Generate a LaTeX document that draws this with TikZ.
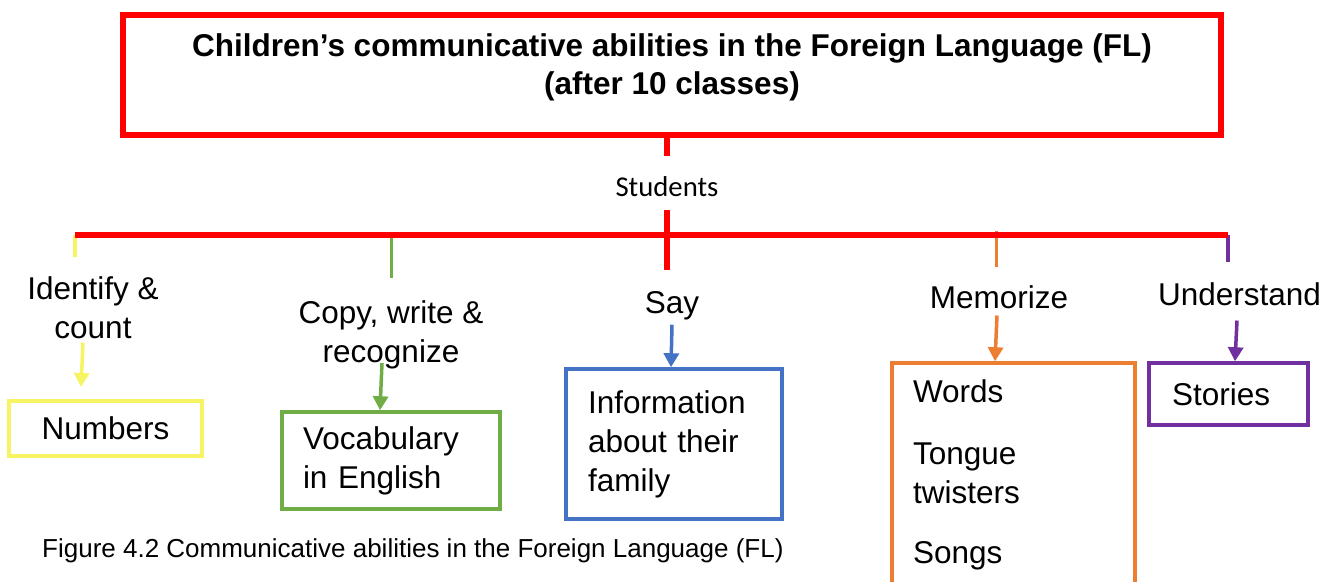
\documentclass[tikz,border=0pt]{standalone}
\usepackage{fontspec}
\setmainfont{Liberation Sans}
\newfontfamily\calibri{Carlito}
\usetikzlibrary{arrows.meta}
\definecolor{ylw}{RGB}{247,244,100}
\definecolor{grn}{RGB}{112,173,71}
\definecolor{blu}{RGB}{68,114,196}
\definecolor{org}{RGB}{237,125,49}
\definecolor{pur}{RGB}{112,48,160}
\tikzset{
  bus/.style={red,line width=5.5pt},
  stub/.style={line width=3.5pt},
  verb/.style={font=\fontsize{31.5}{39}\selectfont,align=center,inner sep=0pt,anchor=base},
  itembox/.style={draw,line width=3.5pt,align=left,font=\fontsize{31.5}{39}\selectfont,inner ysep=0pt},
  arr/.style={line width=3.5pt,-{Triangle[length=14pt,width=15pt]}}
}
\begin{document}
\begin{tikzpicture}[x=1pt,y=-1pt]
\useasboundingbox (0,0) rectangle (1332,581);
\clip (0,0) rectangle (1332,581);
\node[draw=red,line width=5.5pt,minimum width=1098pt,minimum height=120pt] (title) at (672,75) {};
\node[font=\bfseries\fontsize{31.5}{37.5}\selectfont,align=center,inner sep=0pt,anchor=base] (ttl) at (672,94)
  {Children’s communicative abilities in the Foreign Language (FL)\\(after 10 classes)};
\node[font=\calibri\fontsize{28.7}{34}\selectfont,inner sep=0pt,anchor=base] (stud) at (667,196) {Students};
\coordinate (busL) at (75,235);
\coordinate (busR) at (1228,235);
\coordinate (busM) at (667,270);
\coordinate (s1) at (75,257);
\coordinate (s2) at (391.5,278);
\coordinate (s4) at (996.5,267);
\coordinate (s5) at (1228,262);
\draw[stub,ylw] (s1 |- busL) -- (s1);
\draw[stub,grn] (s2 |- busL) -- (s2);
\draw[stub,org] ([yshift=4pt]s4 |- busL) -- (s4);
\draw[stub,pur] (s5 |- busL) -- (s5);
\draw[bus] (title.south -| stud) -- ([yshift=20pt]stud.north);
\draw[bus] ([yshift=-14pt]stud.south) -- (busM);
\draw[bus] (busL) -- (busR);
\node[verb] (idc) at (93,338) {Identify \&\\count};
\node[verb] (cwr) at (391,362) {Copy, write \&\\recognize};
\node[verb] (say) at (672,313) {Say};
\node[verb] (mem) at (999,308) {Memorize};
\node[verb] (und) at (1239.5,305) {Understand};
\node[itembox,draw=ylw,line width=4pt,minimum width=193pt,minimum height=55pt] (num) at (105.5,428.5) {Numbers};
\node[itembox,draw=grn,text width=176pt,inner xsep=21pt,minimum height=97pt] (voc) at (391,460.5) {Vocabulary\\in English};
\node[itembox,draw=blu,text width=172pt,inner xsep=22pt,minimum height=150pt] (info) at (674,444) {Information\\about their\\family};
\node[itembox,draw=org,text width=201pt,inner xsep=21pt,minimum height=224pt] (wrd) at (1013.5,475) {Words\\[23pt]Tongue\\twisters\\[21pt]Songs};
\node[itembox,draw=pur,text width=113pt,inner xsep=23pt,minimum height=62pt] (sto) at (1228.5,394) {Stories};
\draw[arr,ylw] ([xshift=-10pt,yshift=-4pt]idc.south) -- ([xshift=-24.5pt,yshift=12pt]num.north);
\draw[arr,grn] ([xshift=-9pt,yshift=5.6pt]cwr.south) -- ([xshift=-11pt]voc.north);
\draw[arr,blu] ([yshift=-5pt]say.south) -- ([xshift=-3pt]info.north);
\draw[arr,org] ([xshift=-2pt,yshift=-7pt]mem.south) -- ([xshift=-18.5pt]wrd.north);
\draw[arr,pur] ([xshift=-2.5pt,yshift=-15pt]und.south) -- ([xshift=6.5pt]sto.north);
\node[font=\fontsize{26}{30}\selectfont,inner sep=0pt,anchor=base west] (cap) at (42,557)
  {Figure 4.2 Communicative abilities in the Foreign Language (FL)};
\end{tikzpicture}
\end{document}
